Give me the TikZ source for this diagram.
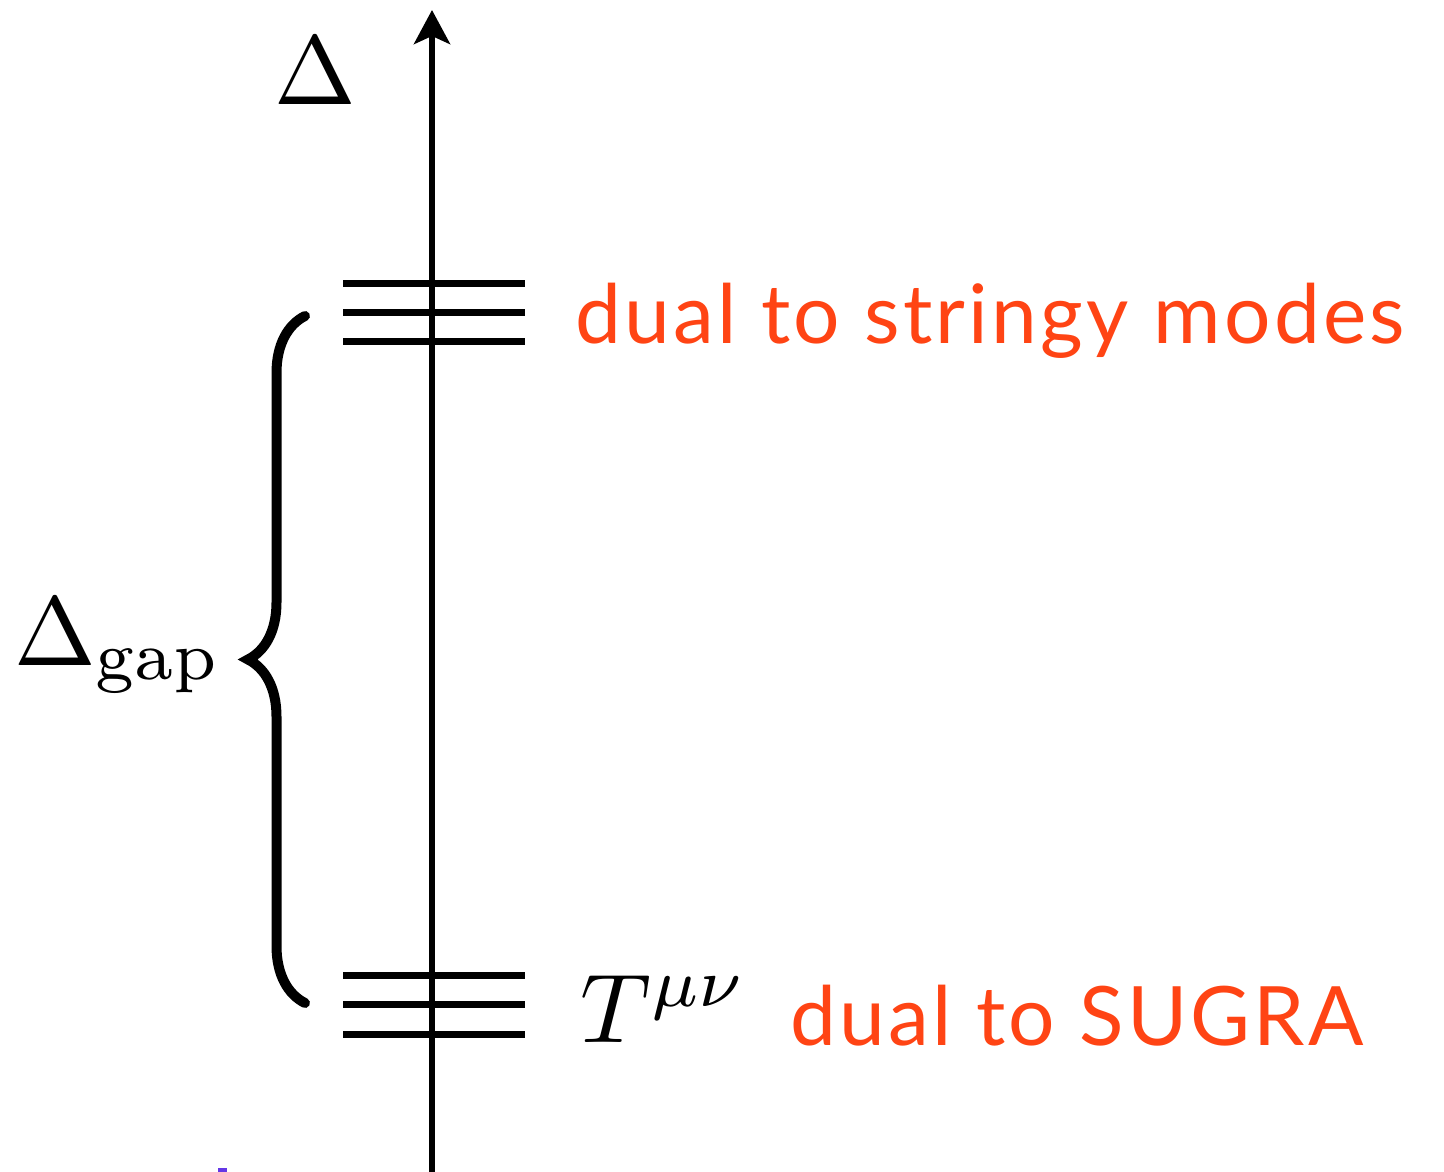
\documentclass[tikz,border=0pt]{standalone}
\usepackage{fontspec}
\usepackage{amsmath}
\usepackage{tikz}
\usetikzlibrary{arrows.meta,decorations.pathreplacing,calc}
\setsansfont{Lato}[LetterSpace=4]
\definecolor{dualred}{RGB}{255,68,20}
\definecolor{markblue}{RGB}{100,55,230}

\tikzset{
    axisline/.style={line width=6pt, -{Stealth[length=34pt, width=36pt, inset=8pt]}},
    levelline/.style={line width=7pt},
    gapbrace/.style={line width=10pt, line cap=round,
        decorate, decoration={brace, amplitude=57pt}},
    duallabel/.style={inner sep=0pt, text=dualred, font=\sffamily\fontsize{82}{90}\selectfont},
    mathlabel/.style={inner sep=0pt}
}

\begin{document}
\begin{tikzpicture}[x=1pt, y=-1pt]
    \useasboundingbox (0,0) rectangle (1444,1172);

    % vertical axis
    \coordinate (axisbot) at (432,1172);
    \coordinate (axistop) at (432,10);
    \draw[axisline] (axisbot) -- (axistop);
    \node[mathlabel, anchor=base west] (delta) at (274,105) {\scalebox{9.8}{$\Delta$}};

    % levels
    \foreach \y/\name in {283/s1, 312/s2, 341/s3, 975/g1, 1004/g2, 1034/g3} {
        \coordinate (\name l) at (343,\y);
        \coordinate (\name r) at (525,\y);
        \draw[levelline] (\name l) -- (\name r);
    }

    % gap
    \coordinate (bracebot) at (305,1003);
    \coordinate (bracetop) at (305,316);
    \draw[gapbrace] (bracebot) -- (bracetop);
    \node[mathlabel, anchor=base west] (gap) at (14,665) {\scalebox{9.8}{$\Delta_{\text{gap}}$}};

    % labels
    \node[duallabel, anchor=base west] (stringy) at (575,343) {dual to stringy modes};
    \node[mathlabel, anchor=base west] (tmunu) at (580,1042) {\scalebox{9.8}{$T^{\mu\nu}$}};
    \node[duallabel, anchor=base west] (sugra) at (790,1045) {dual to SUGRA};

    \fill[markblue] (218,1168) rectangle (227,1172);
\end{tikzpicture}
\end{document}
